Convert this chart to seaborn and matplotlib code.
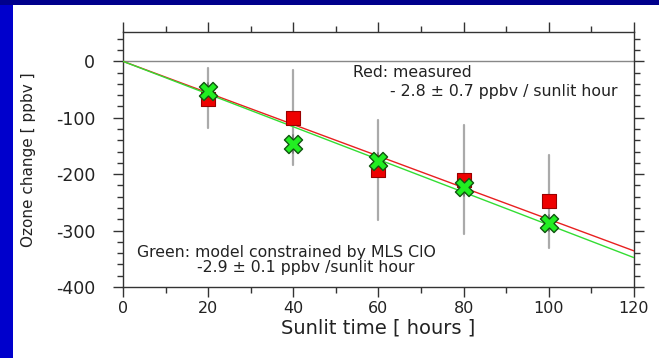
import matplotlib
matplotlib.use("Agg")
import matplotlib.pyplot as plt
import seaborn as sns
import numpy as np
import pandas as pd
from matplotlib.patches import Rectangle

# ---- data ----
hours = [20, 40, 60, 80, 100]
measured = [-66, -100, -193, -210, -248]
measured_err_lo = [-119, -184, -281, -306, -331]
measured_err_hi = [-12, -16, -104, -112, -166]
model = [-52, -146, -176, -223, -286]
model_err = [8, 10, 8, 10, 8]
fit_x = [0, 120]
slope_measured = -2.8
slope_model = -2.9
x_ticks = [0, 20, 40, 60, 80, 100, 120]
y_ticks = [0, -100, -200, -300, -400]

sns.set_theme(style="white")
plt.rcParams['font.family'] = ['DejaVu Sans']
plt.rcParams['axes.unicode_minus'] = False

fig = plt.figure(figsize=(6.59, 3.58), dpi=100)
fig.patch.set_facecolor('#0000cc')
W, H = 659, 358
fig.add_artist(Rectangle((0, 1 - 5 / H), 1, 5 / H, transform=fig.transFigure,
                         facecolor='#00008c', edgecolor='none', zorder=-10))
fig.add_artist(Rectangle((13 / W, 0), 1 - 13 / W, 1 - 5 / H, transform=fig.transFigure,
                         facecolor='white', edgecolor='none', zorder=-10))

ax = fig.add_axes([123 / W, 1 - 287 / H, (634 - 123) / W, (287 - 32) / H])
ax.set_facecolor('white')

# zero line
ax.axhline(0, color='#888888', lw=1.0, zorder=1)

# error bars
for x, lo, hi in zip(hours, measured_err_lo, measured_err_hi):
    ax.plot([x, x], [lo, hi], color='#aaaaaa', lw=1.6, zorder=2)
for x, m, e in zip(hours, model, model_err):
    ax.plot([x, x], [m - e - 6, m + e + 6], color='#777777', lw=1.2, zorder=2)

# fit lines
df_fit = pd.DataFrame({
    'x': fit_x * 2,
    'y': [slope_measured * v for v in fit_x] + [slope_model * v for v in fit_x],
    'series': ['measured'] * 2 + ['model'] * 2,
})
sns.lineplot(data=df_fit, x='x', y='y', hue='series',
             palette={'measured': '#e82020', 'model': '#33dd33'},
             lw=1.0, legend=False, ax=ax, zorder=3)

# markers
df_m = pd.DataFrame({'x': hours, 'y': measured})
df_g = pd.DataFrame({'x': hours, 'y': model})
sns.scatterplot(data=df_m, x='x', y='y', marker='s', s=110, color='#ee0000',
                edgecolor='#990000', linewidth=0.8, ax=ax, zorder=4)
sns.scatterplot(data=df_g, x='x', y='y', marker='X', s=170, color='#22ee22',
                edgecolor='#115511', linewidth=1.0, ax=ax, zorder=5)

ax.set_xlim(0, 120)
ax.set_ylim(-400, 52)
ax.set_xticks(x_ticks)
ax.set_yticks(y_ticks)
ax.set_xticks(np.arange(0, 121, 10), minor=True)
ax.set_yticks(np.arange(-400, 41, 20), minor=True)
ax.tick_params(which='both', direction='out', top=True, right=True,
               bottom=True, left=True, labeltop=False, labelright=False,
               color='#333333', width=1.0)
ax.tick_params(which='major', length=7, labelsize=11.5, labelcolor='#222222', pad=3)
ax.tick_params(axis='y', which='major', labelsize=12.5, pad=13)
ax.tick_params(which='minor', length=4)
for s in ax.spines.values():
    s.set_color('#333333')
    s.set_linewidth(1.0)

ax.set_xlabel('Sunlit time [ hours ]', fontsize=14, color='#222222', labelpad=2)
ax.set_ylabel('Ozone change [ ppbv ]', fontsize=11, color='#222222', labelpad=14)

fs = 11.3
ax.text(54.0, -19.5, 'Red: measured', fontsize=fs, color='#222222', va='center', ha='left')
ax.text(62.7, -53, '- 2.8 \u00b1 0.7 ppbv / sunlit hour', fontsize=fs, color='#222222',
        va='center', ha='left')
ax.text(3.3, -339, 'Green: model constrained by MLS ClO', fontsize=fs, color='#222222',
        va='center', ha='left')
ax.text(17.4, -366, '-2.9 \u00b1 0.1 ppbv /sunlit hour', fontsize=fs, color='#222222',
        va='center', ha='left')

fig.savefig('out.png', dpi=100, facecolor=fig.get_facecolor())
